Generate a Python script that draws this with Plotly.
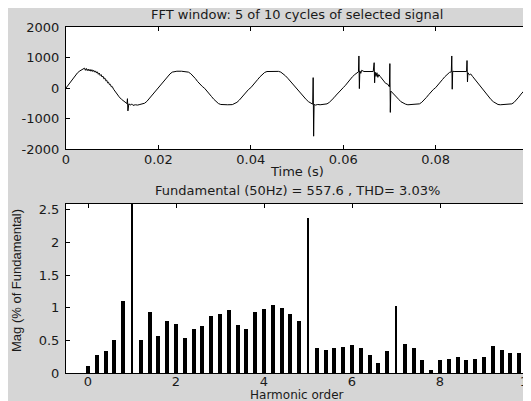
import plotly.graph_objects as go

# ---------------- data ----------------
time_s = [
    0.0000, 0.0003, 0.0006, 0.0010, 0.0015, 0.0020, 0.0025, 0.0030, 0.0035, 0.0040,
    0.0042, 0.0044, 0.0046, 0.0048, 0.0050, 0.0052, 0.0054, 0.0056, 0.0058, 0.0060,
    0.0062, 0.0064, 0.0066, 0.0068, 0.0070, 0.0072, 0.0074, 0.0076, 0.0078, 0.0080,
    0.0082, 0.0084, 0.0086, 0.0088, 0.0090, 0.0092, 0.0094, 0.0096, 0.0098, 0.0100,
    0.0103, 0.0106, 0.0110, 0.0115, 0.0120, 0.0125, 0.0130, 0.0132, 0.0133, 0.0134,
    0.0136, 0.0140, 0.0142, 0.0145, 0.0150, 0.0155, 0.0160, 0.0165, 0.0170, 0.0175,
    0.0180, 0.0185, 0.0190, 0.0195, 0.0200, 0.0205, 0.0210, 0.0215, 0.0220, 0.0225,
    0.0230, 0.0235, 0.0240, 0.0250, 0.0260, 0.0265, 0.0270, 0.0275, 0.0280, 0.0285,
    0.0290, 0.0295, 0.0300, 0.0305, 0.0310, 0.0315, 0.0320, 0.0325, 0.0330, 0.0335,
    0.0340, 0.0350, 0.0360, 0.0365, 0.0370, 0.0375, 0.0380, 0.0385, 0.0390, 0.0395,
    0.0400, 0.0405, 0.0410, 0.0415, 0.0420, 0.0425, 0.0430, 0.0435, 0.0440, 0.0460,
    0.0465, 0.0470, 0.0475, 0.0480, 0.0485, 0.0490, 0.0495, 0.0500, 0.0505, 0.0510,
    0.0515, 0.0520, 0.0525, 0.0530, 0.0534, 0.0535, 0.0536, 0.0537, 0.0540, 0.0545,
    0.0550, 0.0560, 0.0565, 0.0570, 0.0575, 0.0580, 0.0585, 0.0590, 0.0595, 0.0600,
    0.0605, 0.0610, 0.0615, 0.0620, 0.0625, 0.0630, 0.0633, 0.0634, 0.0635, 0.0636,
    0.0638, 0.0640, 0.0645, 0.0655, 0.0665, 0.0667, 0.0668, 0.0669, 0.0671, 0.0673,
    0.0675, 0.0677, 0.0680, 0.0684, 0.0688, 0.0692, 0.0696, 0.0700, 0.0701, 0.0702,
    0.0703, 0.0705, 0.0710, 0.0715, 0.0720, 0.0725, 0.0730, 0.0735, 0.0740, 0.0760,
    0.0765, 0.0770, 0.0775, 0.0780, 0.0785, 0.0790, 0.0795, 0.0800, 0.0805, 0.0810,
    0.0815, 0.0820, 0.0825, 0.0830, 0.0834, 0.0835, 0.0836, 0.0837, 0.0840, 0.0850,
    0.0860, 0.0867, 0.0868, 0.0869, 0.0870, 0.0873, 0.0876, 0.0880, 0.0885, 0.0890,
    0.0895, 0.0900, 0.0905, 0.0910, 0.0915, 0.0920, 0.0925, 0.0930, 0.0935, 0.0940,
    0.0960, 0.0965, 0.0970, 0.0975, 0.0980, 0.0985, 0.0990, 0.0995, 0.1000,
]
signal = [
    0, 60, 120, 230, 330, 420, 500, 560, 600, 650,
    580, 640, 570, 620, 560, 610, 550, 600, 540, 580,
    520, 560, 490, 530, 450, 490, 410, 440, 360, 390,
    300, 330, 240, 260, 170, 190, 110, 120, 40, 50,
    -40, -110, -200, -290, -370, -440, -490, -510, -350, -750,
    -520, -560, -520, -570, -550, -560, -540, -530, -500, -440,
    -350, -250, -150, -70, 0, 90, 190, 290, 380, 460,
    520, 545, 550, 550, 545, 520, 470, 400, 310, 210,
    120, 50, -10, -90, -190, -280, -370, -450, -510, -540,
    -550, -550, -545, -520, -470, -400, -310, -210, -120, -50,
    10, 90, 190, 280, 370, 450, 510, 540, 545, 545,
    520, 470, 400, 320, 230, 140, 60, -10, -100, -200,
    -300, -380, -450, -500, -530, 340, -1580, -540, -560, -540,
    -550, -545, -520, -470, -410, -320, -230, -140, -60, 10,
    90, 190, 280, 370, 440, 500, 530, 1050, -20, 560,
    480, 580, 540, 540, 540, 830, 170, 520, 380, 500,
    350, 440, 380, 300, 260, 150, 130, 40, 800, -800,
    -100, -130, -200, -290, -370, -450, -500, -530, -550, -545,
    -520, -470, -400, -310, -220, -130, -50, 10, 90, 190,
    280, 370, 450, 510, 530, 1050, -40, 550, 540, 540,
    540, 540, 900, 200, 500, 430, 460, 380, 280, 180,
    90, 0, -90, -190, -290, -380, -450, -510, -540, -550,
    -545, -520, -470, -400, -300, -200, -100, -30, 30,
]

harmonic_order = [
    0.0, 0.2, 0.4, 0.6, 0.8, 1.0, 1.2, 1.4, 1.6, 1.8,
    2.0, 2.2, 2.4, 2.6, 2.8, 3.0, 3.2, 3.4, 3.6, 3.8,
    4.0, 4.2, 4.4, 4.6, 4.8, 5.0, 5.2, 5.4, 5.6, 5.8,
    6.0, 6.2, 6.4, 6.6, 6.8, 7.0, 7.2, 7.4, 7.6, 7.8,
    8.0, 8.2, 8.4, 8.6, 8.8, 9.0, 9.2, 9.4, 9.6, 9.8,
]
mag_pct = [
    0.11, 0.27, 0.34, 0.51, 1.11, 100.0, 0.51, 0.94, 0.56, 0.80,
    0.75, 0.53, 0.67, 0.72, 0.87, 0.90, 0.96, 0.74, 0.68, 0.93,
    0.98, 1.04, 0.99, 0.91, 0.79, 2.38, 0.39, 0.35, 0.38, 0.40,
    0.43, 0.38, 0.28, 0.15, 0.33, 1.02, 0.45, 0.39, 0.20, 0.05,
    0.20, 0.22, 0.24, 0.20, 0.21, 0.25, 0.41, 0.35, 0.31, 0.31,
]

time_ticks = [0, 0.02, 0.04, 0.06, 0.08]
time_tick_labels = ["0", "0.02", "0.04", "0.06", "0.08"]
sig_ticks = [-2000, -1000, 0, 1000, 2000]
sig_tick_labels = ["-2000", "-1000", "0", "1000", "2000"]
harm_ticks = [0, 2, 4, 6, 8, 10]
mag_ticks = [0, 0.5, 1, 1.5, 2, 2.5]
mag_tick_labels = ["0", "0.5", "1", "1.5", "2", "2.5"]

title_top = "FFT window: 5 of 10 cycles of selected signal"
title_bottom = "Fundamental (50Hz) = 557.6 , THD= 3.03%"

# ---------------- figure (pixel coords are figure coords) ----------------
W, H = 531, 401
ML, MR, MT, MB = 58, 11, 19, 36
PW, PH = W - ML - MR, H - MT - MB

def px_x(px):
    return (px - ML) / PW

def px_y(py):
    return (H - MB - py) / PH

FONT = "DejaVu Sans, Verdana, sans-serif"
TXT = "#1a1a1a"
FS = 13

thin = {1.0, 5.0, 7.0}
bar_widths = [0.045 if h in thin else 0.09 for h in harmonic_order]

fig = go.Figure()
fig.add_trace(go.Scatter(x=time_s, y=signal, mode="lines",
                         line=dict(color="black", width=1),
                         xaxis="x", yaxis="y", showlegend=False))
fig.add_trace(go.Bar(x=harmonic_order, y=mag_pct, width=bar_widths,
                     marker=dict(color="black", line=dict(width=0)),
                     xaxis="x2", yaxis="y2", showlegend=False))

axis_common = dict(showgrid=False, zeroline=False, showline=True, linecolor="black",
                   linewidth=1, mirror="ticks", ticks="inside", ticklen=4,
                   tickcolor="black", automargin=False,
                   tickfont=dict(family=FONT, size=FS, color=TXT))

fig.update_layout(
    width=W, height=H,
    margin=dict(l=ML, r=MR, t=MT, b=MB, autoexpand=False),
    paper_bgcolor="#d6d6d6",
    plot_bgcolor="white",
    xaxis=dict(domain=[0, 1], range=[0, 0.1], anchor="y",
               tickvals=time_ticks, ticktext=time_tick_labels,
               ticklabelstandoff=-2, **axis_common),
    yaxis=dict(domain=[px_y(141), 1], range=[-2000, 2000], anchor="x",
               tickvals=sig_ticks, ticktext=sig_tick_labels,
               ticklabelstandoff=3, **axis_common),
    xaxis2=dict(domain=[0, 1], range=[-0.5, 10], anchor="y2",
                tickvals=harm_ticks, ticklabelstandoff=-4, **axis_common),
    yaxis2=dict(domain=[0, px_y(196)], range=[0, 2.59], anchor="x2",
                tickvals=mag_ticks, ticktext=mag_tick_labels, ticklabelstandoff=3,
                **axis_common),
    bargap=0,
    annotations=[
        dict(text=title_top, xref="paper", yref="paper", x=0.5, y=px_y(7),
             showarrow=False, xanchor="center", yanchor="middle",
             font=dict(family=FONT, size=FS, color=TXT)),
        dict(text="Time (s)", xref="paper", yref="paper", x=0.5, y=px_y(163),
             showarrow=False, xanchor="center", yanchor="middle",
             font=dict(family=FONT, size=FS, color=TXT)),
        dict(text=title_bottom, xref="paper", yref="paper", x=0.5, y=px_y(182),
             showarrow=False, xanchor="center", yanchor="middle",
             font=dict(family=FONT, size=FS, color=TXT)),
        dict(text="Harmonic order", xref="paper", yref="paper", x=0.5, y=px_y(386.5),
             showarrow=False, xanchor="center", yanchor="middle",
             font=dict(family=FONT, size=12, color=TXT)),
        dict(text="Mag (% of Fundamental)", xref="paper", yref="paper",
             x=px_x(8), y=px_y(273), textangle=-90,
             showarrow=False, xanchor="center", yanchor="middle",
             font=dict(family="Liberation Sans, Arial, sans-serif",
                       size=13, color=TXT)),
    ],
)

fig.write_html("out.html")
